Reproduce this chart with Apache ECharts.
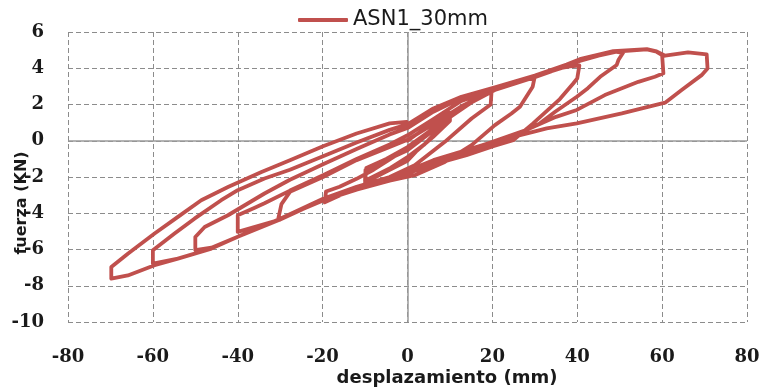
<!DOCTYPE html>
<html>
<head>
<meta charset="utf-8">
<script src="https://cdn.jsdelivr.net/npm/echarts@6/dist/echarts.min.js"></script>
<style>
  html, body { margin: 0; padding: 0; background: #fff; }
  #chart { width: 764px; height: 388px; }
</style>
</head>
<body>
<div id="chart"></div>
<script>
// Hysteresis record, specimen ASN1 (30 mm): [displacement mm, force kN]
const seriesName = 'ASN1_30mm';
const xTickValues = [-80, -60, -40, -20, 0, 20, 40, 60, 80];
const yTickValues = [-10, -8, -6, -4, -2, 0, 2, 4, 6];

// Cycle at ±10 mm (two passes)
const cycle10 = [
  [0, 0], [3, 0.5], [6, 1.0], [10, 1.55], [10, 1.25], [7, 0.55], [4, -0.2], [0, -0.9],
  [-4, -1.5], [-10, -2.2], [-9.9, -1.6], [-5, -1.07], [0, -0.52], [4, 0.2], [8, 0.9], [10, 1.3]
];
const cycle10b = [
  [10, 1.1], [6, 0.2], [2, -0.6], [0, -1.1], [-5, -1.7], [-10, -2.3], [-9.7, -1.5],
  [-5, -1.0], [0, -0.35]
];
// Cycle at ±20 mm
const cycle20 = [
  [5, 0.5], [10, 1.3], [15, 2.1], [19.8, 2.7], [19.6, 2.0], [15.1, 1.23], [8.8, -0.06],
  [1.7, -1.35], [-4.2, -2.0], [-12, -2.6], [-19.5, -3.4], [-19.2, -2.8], [-16, -2.54],
  [-12, -2.1], [-8, -1.6], [-4, -1.0], [0, -0.4]
];
// Cycle at ±30 mm
const cycle30 = [
  [5, 0.5], [10, 1.4], [15, 2.2], [20.6, 2.85], [25, 3.2], [30, 3.55], [29.5, 2.98],
  [26.5, 1.87], [24.5, 1.5], [20.6, 0.86], [15.1, -0.24], [8.8, -1.17], [1.7, -1.9],
  [-4.2, -2.2], [-12, -2.7], [-19.9, -3.3], [-30.5, -4.35], [-29.7, -3.5], [-27.7, -2.82],
  [-19.9, -2.0], [-12, -1.07], [-4.2, -0.34], [0, 0.05]
];
// Cycle at ±40 mm
const cycle40 = [
  [6, 0.9], [12.7, 1.9], [20.6, 2.8], [30, 3.5], [36, 4.0], [38.3, 4.1], [40.5, 4.15],
  [40, 3.44], [39.1, 3.17], [35.9, 2.3], [29.6, 0.96], [24.9, 0.03], [20.2, -0.3],
  [13.9, -0.8], [6.1, -1.3], [0, -1.8], [-4.2, -2.05], [-12, -2.6], [-19.9, -3.25],
  [-30, -4.35], [-40, -5.03], [-40, -4.11], [-36, -3.7], [-33.7, -3.45], [-27.7, -2.75],
  [-19.9, -1.9], [-12, -1.0], [-4.2, -0.2], [0, 0.3]
];
// Cycle at ±50 mm
const cycle50 = [
  [6.1, 1.2], [12.7, 2.2], [20.6, 2.85], [30, 3.55], [37.5, 4.1], [40.6, 4.4], [45, 4.7],
  [49.3, 4.91], [50.8, 4.85], [49.7, 4.45], [49.3, 4.18], [45.4, 3.53], [42.5, 2.9],
  [39.9, 2.43], [34.8, 1.6], [31.2, 0.96], [26.5, 0.42], [20.2, -0.13], [13.9, -0.6],
  [6.1, -1.15], [0, -1.7], [-4.2, -2.0], [-12, -2.58], [-19.9, -3.2], [-30, -4.35],
  [-40, -5.3], [-46.2, -5.9], [-50, -6.04], [-50, -5.31], [-47.8, -4.76], [-42.3, -4.11],
  [-33.7, -2.91], [-27.7, -2.15], [-19.9, -1.3], [-12, -0.45], [-4.2, 0.35], [0, 0.7]
];
// Cycle at ±60 mm
const cycle60 = [
  [6.1, 1.6], [12.7, 2.35], [20.6, 2.9], [30, 3.55], [37.5, 4.18], [40.6, 4.45],
  [48.5, 4.9], [56.4, 5.04], [58.7, 4.91], [60, 4.73], [60.3, 3.72], [58.3, 3.53],
  [54.4, 3.25], [46.5, 2.52], [39.9, 1.7], [35, 1.32], [28.1, 0.6], [20.2, -0.05],
  [13.9, -0.55], [6.1, -1.1], [0, -1.65], [-4.2, -2.0], [-12, -2.55], [-19.9, -3.2],
  [-30, -4.3], [-40, -5.3], [-46.2, -5.95], [-54.1, -6.5], [-60, -6.78], [-60, -6.04],
  [-54.9, -5.12], [-50.2, -4.3], [-43.9, -3.28], [-40, -2.73], [-33.7, -2.08],
  [-27.7, -1.6], [-19.9, -0.85], [-12, -0.1], [-4.2, 0.6], [0, 0.9]
];
// Cycle at ±70 mm
const cycle70 = [
  [6.1, 1.78], [12.7, 2.43], [20.6, 2.95], [30, 3.6], [37.5, 4.2], [40.6, 4.5],
  [48.5, 4.95], [56.4, 5.05], [58.7, 4.93], [60.7, 4.69], [66.1, 4.88], [70.5, 4.77],
  [70.7, 3.99], [69.3, 3.62], [64.6, 2.8], [60.7, 2.1], [50.5, 1.51], [39.9, 0.96],
  [32.8, 0.68], [29.6, 0.49], [20.2, -0.06], [13.9, -0.52], [6.1, -1.07], [0, -1.65],
  [-4.2, -2.0], [-12, -2.54], [-19.9, -3.2], [-30, -4.35], [-40, -5.3], [-46.2, -5.95],
  [-54.1, -6.5], [-59.6, -6.87], [-65.9, -7.43], [-69.8, -7.61], [-69.8, -6.97],
  [-65.9, -6.23], [-59.6, -5.12], [-54.1, -4.2], [-48.6, -3.28], [-42.3, -2.55],
  [-34.4, -1.72], [-27.7, -1.07], [-19.9, -0.3], [-12, 0.4], [-4.2, 0.96], [-0.2, 1.04]
];

const cycles = [cycle10, cycle10b, cycle20, cycle30, cycle40, cycle50, cycle60, cycle70];
const record = [].concat(...cycles);

const gridColor = '#8c8c8c';
const textColor = '#1a1a1a';
const tickFont = { fontFamily: 'DejaVu Serif', fontWeight: 'bold', fontSize: 18, color: textColor };

const chart = echarts.init(document.getElementById('chart'), null, { renderer: 'canvas' });
chart.setOption({
  animation: false,
  backgroundColor: '#fff',
  grid: { left: 68, right: 17, top: 32, bottom: 66, containLabel: false },
  legend: {
    data: [seriesName],
    left: 298, top: 9, padding: 0,
    icon: 'roundRect', itemWidth: 50, itemHeight: 4,
    textStyle: { fontFamily: 'DejaVu Sans', fontSize: 21, color: textColor, lineHeight: 22 }
  },
  xAxis: {
    type: 'value',
    min: xTickValues[0], max: xTickValues[xTickValues.length - 1],
    interval: xTickValues[1] - xTickValues[0],
    axisLine: { show: false }, axisTick: { show: false },
    axisLabel: Object.assign({ margin: 26 }, tickFont),
    splitLine: { show: true, lineStyle: { color: gridColor, type: [5, 3], width: 1 } }
  },
  yAxis: {
    type: 'value',
    min: yTickValues[0], max: yTickValues[yTickValues.length - 1],
    interval: yTickValues[1] - yTickValues[0],
    axisLine: { show: false }, axisTick: { show: false },
    axisLabel: Object.assign({ margin: 24 }, tickFont),
    splitLine: { show: true, lineStyle: { color: gridColor, type: [5, 3], width: 1 } }
  },
  graphic: [
    {
      type: 'text', silent: true,
      style: {
        text: 'desplazamiento (mm)', x: 447, y: 378,
        textAlign: 'center', textVerticalAlign: 'middle',
        font: 'bold 18px "DejaVu Sans"', fill: textColor
      }
    },
    {
      type: 'text', silent: true, x: 22, y: 203, rotation: Math.PI / 2,
      style: {
        text: 'fuerza (KN)', x: 0, y: 0,
        textAlign: 'center', textVerticalAlign: 'middle',
        font: 'bold 16px "DejaVu Sans"', fill: textColor
      }
    }
  ],
  series: [
    {
      // solid zero lines under the curve
      type: 'line', data: [], z: 1, silent: true,
      markLine: {
        silent: true, symbol: 'none', z: 1, animation: false,
        label: { show: false },
        lineStyle: { color: '#9a9a9a', type: 'solid', width: 1.5 },
        data: [{ xAxis: 0 }, { yAxis: 0 }]
      }
    },
    {
      name: seriesName, type: 'line', z: 3,
      data: record,
      showSymbol: false, symbol: 'none',
      lineStyle: { color: '#c0504d', width: 3.8, cap: 'round', join: 'round' },
      itemStyle: { color: '#c0504d' }
    }
  ]
});
</script>
</body>
</html>
